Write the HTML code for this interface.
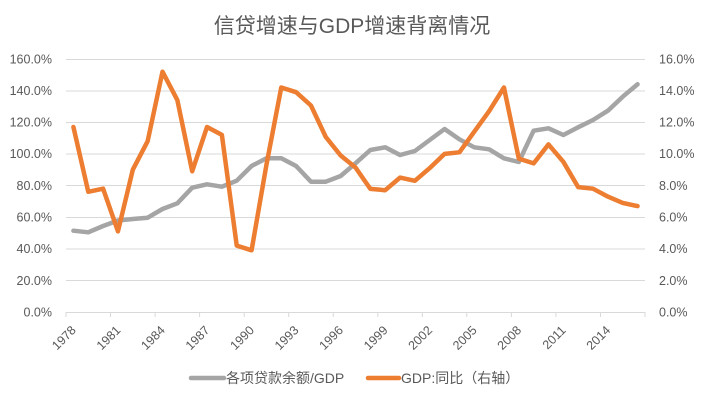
<!DOCTYPE html>
<html><head><meta charset="utf-8"><style>
html,body{margin:0;padding:0;background:#fff;}
svg{display:block;}
text{font-family:"Liberation Sans","Noto Sans CJK SC",sans-serif;fill:#595959;}
</style></head><body>
<svg width="705" height="401" viewBox="0 0 705 401" xmlns="http://www.w3.org/2000/svg">
<rect width="705" height="401" fill="#fff"/>
<text x="352" y="33" font-size="21" text-anchor="middle">信贷增速与GDP增速背离情况</text>
<g stroke="#D9D9D9" stroke-width="1">
<line x1="66" y1="59.5" x2="645" y2="59.5"/>
<line x1="66" y1="91" x2="645" y2="91"/>
<line x1="66" y1="122.5" x2="645" y2="122.5"/>
<line x1="66" y1="154" x2="645" y2="154"/>
<line x1="66" y1="185.5" x2="645" y2="185.5"/>
<line x1="66" y1="217.5" x2="645" y2="217.5"/>
<line x1="66" y1="249" x2="645" y2="249"/>
<line x1="66" y1="280.5" x2="645" y2="280.5"/>
<line x1="66" y1="312.5" x2="645" y2="312.5"/>
<line x1="66" y1="312" x2="66" y2="317"/>
<line x1="110.5" y1="312" x2="110.5" y2="317"/>
<line x1="155.1" y1="312" x2="155.1" y2="317"/>
<line x1="199.6" y1="312" x2="199.6" y2="317"/>
<line x1="244.2" y1="312" x2="244.2" y2="317"/>
<line x1="288.7" y1="312" x2="288.7" y2="317"/>
<line x1="333.2" y1="312" x2="333.2" y2="317"/>
<line x1="377.8" y1="312" x2="377.8" y2="317"/>
<line x1="422.3" y1="312" x2="422.3" y2="317"/>
<line x1="466.8" y1="312" x2="466.8" y2="317"/>
<line x1="511.4" y1="312" x2="511.4" y2="317"/>
<line x1="555.9" y1="312" x2="555.9" y2="317"/>
<line x1="600.5" y1="312" x2="600.5" y2="317"/>
<line x1="645" y1="312" x2="645" y2="317"/>
</g>
<g font-size="12.5" text-anchor="end">
<text x="52" y="63.5">160.0%</text>
<text x="52" y="95">140.0%</text>
<text x="52" y="126.5">120.0%</text>
<text x="52" y="158">100.0%</text>
<text x="52" y="190">80.0%</text>
<text x="52" y="221.5">60.0%</text>
<text x="52" y="253">40.0%</text>
<text x="52" y="285">20.0%</text>
<text x="52" y="316.5">0.0%</text>
</g>
<g font-size="12.5">
<text x="659" y="63.5">16.0%</text>
<text x="659" y="95">14.0%</text>
<text x="659" y="126.5">12.0%</text>
<text x="659" y="158">10.0%</text>
<text x="659" y="190">8.0%</text>
<text x="659" y="221.5">6.0%</text>
<text x="659" y="253">4.0%</text>
<text x="659" y="285">2.0%</text>
<text x="659" y="316.5">0.0%</text>
</g>
<g font-size="12.5" text-anchor="end">
<text x="76.7" y="331" transform="rotate(-45 76.7 331)">1978</text>
<text x="121.3" y="331" transform="rotate(-45 121.3 331)">1981</text>
<text x="165.8" y="331" transform="rotate(-45 165.8 331)">1984</text>
<text x="210.3" y="331" transform="rotate(-45 210.3 331)">1987</text>
<text x="254.9" y="331" transform="rotate(-45 254.9 331)">1990</text>
<text x="299.4" y="331" transform="rotate(-45 299.4 331)">1993</text>
<text x="343.9" y="331" transform="rotate(-45 343.9 331)">1996</text>
<text x="388.5" y="331" transform="rotate(-45 388.5 331)">1999</text>
<text x="433" y="331" transform="rotate(-45 433 331)">2002</text>
<text x="477.6" y="331" transform="rotate(-45 477.6 331)">2005</text>
<text x="522.1" y="331" transform="rotate(-45 522.1 331)">2008</text>
<text x="566.6" y="331" transform="rotate(-45 566.6 331)">2011</text>
<text x="611.2" y="331" transform="rotate(-45 611.2 331)">2014</text>
</g>
<polyline fill="none" stroke="#A5A5A5" stroke-width="4.5" stroke-linejoin="round" stroke-linecap="round" points="73.42,230.7 88.27,232.3 103.12,226 117.96,220.5 132.81,219 147.65,217.7 162.5,209 177.34,203.3 192.19,187.7 207.03,184.3 221.88,186.7 236.73,180.7 251.57,166 266.42,158.3 281.26,158.3 296.11,166 310.95,181.7 325.8,181.7 340.65,176 355.49,163.3 370.34,150 385.18,147.3 400.03,155 414.87,151 429.72,140 444.57,129 459.41,139.3 474.26,147.3 489.1,149.3 503.95,158.3 518.79,162 533.64,130.7 548.49,128.3 563.33,135 578.18,127.3 593.02,120 607.87,110.7 622.71,96.7 637.56,84.3"/>
<polyline fill="none" stroke="#ED7D31" stroke-width="4.5" stroke-linejoin="round" stroke-linecap="round" points="73.42,127 88.27,191.8 103.12,188.7 117.96,231.4 132.81,169.7 147.65,141.2 162.5,71.7 177.34,100.1 192.19,171.3 207.03,127 221.88,134.9 236.73,245.6 251.57,250.3 266.42,164.9 281.26,87.5 296.11,92.2 310.95,105.5 325.8,137 340.65,155.5 355.49,167.5 370.34,188.9 385.18,190.2 400.03,177.6 414.87,180.8 429.72,168.1 444.57,153.9 459.41,152.3 474.26,131.7 489.1,111.2 503.95,87.5 518.79,158.6 533.64,163.4 548.49,144.4 563.33,161.8 578.18,187.1 593.02,188.7 607.87,196.6 622.71,202.9 637.56,206.1"/>
<line x1="191" y1="378" x2="224" y2="378" stroke="#A5A5A5" stroke-width="4.5" stroke-linecap="round"/>
<text x="226" y="383" font-size="14">各项贷款余额/GDP</text>
<line x1="368" y1="378" x2="399" y2="378" stroke="#ED7D31" stroke-width="4.5" stroke-linecap="round"/>
<text x="401" y="383" font-size="14">GDP:同比（右轴）</text>
</svg>
</body></html>
